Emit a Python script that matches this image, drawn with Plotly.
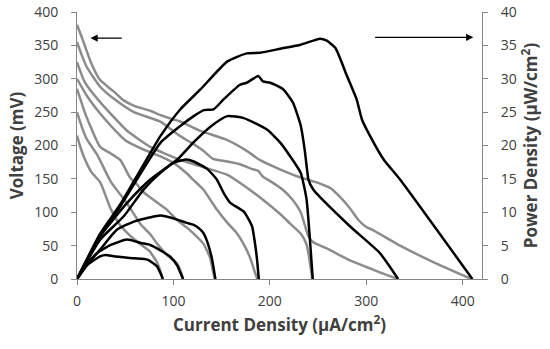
import plotly.graph_objects as go

# ---- voltage curves (gray, left axis, mV) ----
v1_i = [0, 3, 8, 15, 24, 35, 45, 55, 66, 75, 83, 87, 89]
v1_v = [215, 200, 180, 160, 145, 105, 80, 65, 52, 42, 25, 10, 0]

v2_i = [0, 5, 10, 21, 35, 52, 66, 76, 83, 93, 104, 108, 110]
v2_v = [250, 228, 210, 186, 146, 113, 82, 67, 53, 36, 23, 10, 0]

v3_i = [0, 8, 15, 24, 35, 45, 55, 62, 69, 80, 93, 104, 114, 121, 131, 138, 141, 143]
v3_v = [285, 250, 225, 198, 188, 178, 152, 142, 130, 118, 104, 88, 77, 68, 53, 32, 12, 0]

v4_i = [0, 10, 24, 40, 50, 69, 86, 100, 114, 121, 131, 145, 156, 165, 173, 180, 184, 187]
v4_v = [300, 275, 248, 222, 208, 194, 184, 174, 158, 148, 134, 104, 84, 70, 52, 30, 12, 0]

v5_i = [0, 8, 24, 52, 76, 104, 121, 156, 173, 197, 211, 221, 232, 238, 241, 244]
v5_v = [325, 295, 265, 222, 198, 180, 172, 156, 140, 114, 97, 83, 68, 52, 30, 0]

v6_i = [0, 5, 10, 24, 40, 59, 86, 107, 121, 131, 141, 152, 169, 181, 188, 193, 200, 214, 224, 232, 236, 240, 245, 260, 283, 300, 314, 333]
v6_v = [355, 335, 318, 288, 268, 250, 236, 214, 202, 192, 180, 177, 172, 165, 162, 153, 147, 133, 118, 100, 82, 64, 55, 45, 28, 18, 10, 0]

v7_i = [0, 4, 9, 14, 24, 38, 48, 60, 76, 86, 100, 107, 128, 156, 176, 190, 211, 232, 252, 263, 272, 283, 292, 300, 306, 335, 370, 409]
v7_v = [381, 366, 346, 326, 298, 281, 268, 259, 252, 246, 239, 236, 222, 208, 192, 178, 164, 152, 143, 136, 124, 106, 88, 78, 74, 50, 25, 0]

# ---- power density curves (black, right axis, uW/cm2) ----
p1_i = [0, 10, 24, 30, 38, 59, 73, 83, 86.5, 89]
p1_p = [0, 2.0, 3.4, 3.6, 3.4, 3.1, 2.9, 1.9, 0.9, 0]

p2_i = [0, 10, 21, 35, 52, 66, 76, 83, 90, 97, 104, 107, 110]
p2_p = [0, 2.2, 3.9, 5.1, 5.9, 5.4, 5.1, 4.6, 4.0, 3.3, 2.0, 1.0, 0]

p3_i = [0, 12, 24, 41.6, 59, 75, 86.5, 104, 114, 121, 128, 131, 136, 140, 143.5]
p3_p = [0, 2.4, 4.4, 7.4, 8.6, 9.2, 9.5, 8.9, 8.4, 8.1, 7.4, 6.9, 5.2, 3.0, 0]

p4_i = [0, 24, 48.5, 69, 86.5, 100, 114, 121, 135, 145, 152, 159, 173, 181.5, 185, 187, 188.5]
p4_p = [0, 5.9, 9.4, 13.4, 15.9, 17.4, 17.9, 17.6, 16.5, 14.9, 12.9, 11.4, 10.1, 7.9, 4.9, 2.5, 0]

p5_i = [0, 24, 52, 76, 104, 121, 140, 156, 173, 197, 211, 221, 232, 238, 241, 243, 244.5]
p5_p = [0, 6.4, 11.4, 14.9, 17.9, 20.5, 23.0, 24.4, 24.1, 22.4, 20.4, 18.4, 15.9, 12.0, 7.0, 3.0, 0]

p6_i = [0, 24, 45, 86.5, 107, 121, 131.5, 141.5, 152, 169, 176, 181.5, 188, 193, 200.5, 214, 224, 232, 236, 238.5, 240, 245, 283, 314, 333]
p6_p = [0, 6.5, 10.9, 20.4, 22.9, 24.4, 25.3, 25.4, 26.9, 29.1, 29.4, 29.9, 30.4, 29.6, 29.4, 28.4, 26.4, 23.0, 19.5, 16.5, 14.9, 13.4, 7.9, 3.9, 0]

p7_i = [0, 24, 45, 86.5, 107, 128, 156, 176, 190, 211, 232, 252, 259, 268, 280, 290, 295.5, 304, 318, 335, 410]
p7_p = [0, 6.8, 11.2, 21.4, 25.4, 28.4, 32.6, 33.8, 33.9, 34.5, 35.1, 36.0, 35.7, 34.6, 30.4, 26.9, 23.9, 21.4, 17.9, 14.9, 0]

x_ticks = [0, 100, 200, 300, 400]
y_ticks = [0, 50, 100, 150, 200, 250, 300, 350, 400]
y2_ticks = [0, 5, 10, 15, 20, 25, 30, 35, 40]

GRAY = "#8c8c8c"
BLACK = "#000000"
AX = "#868686"
TXT = "#404040"
FONT = "Open Sans"

fig = go.Figure()
for xi, yi in [(v1_i, v1_v), (v2_i, v2_v), (v3_i, v3_v), (v4_i, v4_v),
               (v5_i, v5_v), (v6_i, v6_v), (v7_i, v7_v)]:
    fig.add_trace(go.Scatter(x=xi, y=yi, mode="lines", yaxis="y",
                             line=dict(color=GRAY, width=2.5, shape="spline", smoothing=0.5),
                             showlegend=False, hoverinfo="skip"))
for xi, yi in [(p1_i, p1_p), (p2_i, p2_p), (p3_i, p3_p), (p4_i, p4_p),
               (p5_i, p5_p), (p6_i, p6_p), (p7_i, p7_p)]:
    fig.add_trace(go.Scatter(x=xi, y=yi, mode="lines", yaxis="y2",
                             line=dict(color=BLACK, width=2.5, shape="spline", smoothing=0.5),
                             showlegend=False, hoverinfo="skip"))

axis_common = dict(showgrid=False, zeroline=False, showline=True, linecolor=AX, linewidth=1,
                   ticks="outside", tickcolor=AX, ticklen=5, automargin=False,
                   tickfont=dict(size=14, color=TXT, family=FONT))

fig.update_layout(
    width=550, height=349,
    margin=dict(l=76.5, r=68, t=12, b=70),
    plot_bgcolor="white", paper_bgcolor="white",
    font=dict(family=FONT, color=TXT, size=14),
    xaxis=dict(range=[0, 420], tickvals=x_ticks, ticklabelstandoff=4,
               title=dict(text="<b>Current Density (µA/cm<sup>2</sup>)</b>",
                          font=dict(size=17, color=TXT, family=FONT), standoff=10),
               **axis_common),
    yaxis=dict(range=[0, 400], tickvals=y_ticks, ticklabelstandoff=10,
               title=dict(text="<b>Voltage (mV)</b>", font=dict(size=17, color=TXT, family=FONT),
                          standoff=6),
               **axis_common),
    yaxis2=dict(range=[0, 40], tickvals=y2_ticks, overlaying="y", side="right",
                ticklabelstandoff=10,
                title=dict(text="<b>Power Density (µW/cm<sup>2</sup>)</b>",
                           font=dict(size=17, color=TXT, family=FONT), standoff=8),
                **axis_common),
)

fig.add_annotation(x=14, y=361, ax=48, ay=361, xref="x", yref="y", axref="x", ayref="y",
                   showarrow=True, arrowhead=2, arrowsize=1.2, arrowwidth=1.2,
                   arrowcolor="black", text="")
fig.add_annotation(x=411, y=362, ax=307.6, ay=362, xref="x", yref="y", axref="x", ayref="y",
                   showarrow=True, arrowhead=2, arrowsize=1.2, arrowwidth=1.2,
                   arrowcolor="black", text="")

# remove the default 8px page margin so the figure fills the 550x349 window
fig.write_html("out.html", config={"displayModeBar": False},
               post_script="document.body.style.margin='0';")
